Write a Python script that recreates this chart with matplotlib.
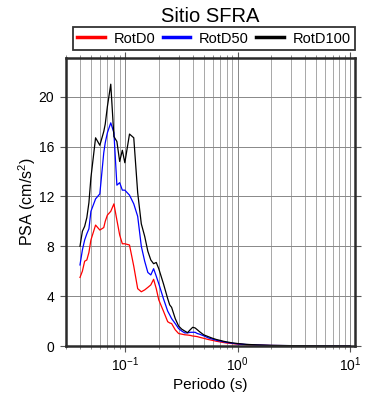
import matplotlib
matplotlib.use('Agg')
import matplotlib.pyplot as plt
from matplotlib.ticker import LogLocator, NullFormatter

plt.rcParams['font.family'] = ['Liberation Sans', 'DejaVu Sans']
plt.rcParams['mathtext.fontset'] = 'custom'
plt.rcParams['mathtext.rm'] = 'Liberation Sans'
plt.rcParams['mathtext.it'] = 'Liberation Sans:italic'

# periodos (s)
periodos = [0.04, 0.042, 0.044, 0.046, 0.048, 0.05, 0.055, 0.06, 0.065, 0.067,
            0.07, 0.075, 0.08, 0.085, 0.09, 0.095, 0.1, 0.11, 0.12, 0.13,
            0.14, 0.15, 0.16, 0.17, 0.18, 0.19, 0.2, 0.22, 0.24, 0.25,
            0.26, 0.28, 0.3, 0.32, 0.34, 0.36, 0.38, 0.4, 0.42, 0.44,
            0.46, 0.5, 0.55, 0.6, 0.65, 0.7, 0.75, 0.8, 0.9, 1.0,
            1.2, 1.5, 2.0, 3.0, 4.0, 5.0, 6.0, 7.5, 10.0]

rotd0 = [5.5, 6.0, 6.8, 6.9, 7.5, 8.5, 9.7, 9.3, 9.5, 10.0,
         10.5, 10.8, 11.4, 10.1, 8.9, 8.2, 8.2, 8.1, 6.4, 4.6,
         4.35, 4.5, 4.7, 4.9, 5.35, 4.6, 3.7, 2.8, 1.95, 1.85,
         1.8, 1.3, 1.0, 0.95, 0.9, 0.88, 0.85, 0.8, 0.78, 0.75,
         0.7, 0.62, 0.52, 0.45, 0.38, 0.33, 0.28, 0.24, 0.19, 0.15,
         0.1, 0.07, 0.04, 0.025, 0.018, 0.013, 0.01, 0.007, 0.005]

rotd50 = [6.5, 7.7, 8.5, 9.0, 9.4, 10.8, 11.8, 12.2, 15.5, 16.3,
          17.1, 17.9, 17.1, 12.9, 13.1, 12.5, 12.5, 12.1, 11.4, 10.4,
          8.0, 6.8, 5.9, 5.7, 6.2, 5.6, 5.0, 3.8, 2.8, 2.5,
          2.2, 1.8, 1.4, 1.2, 1.05, 1.05, 1.1, 1.1, 1.1, 1.0,
          0.95, 0.82, 0.65, 0.55, 0.46, 0.4, 0.34, 0.29, 0.22, 0.17,
          0.12, 0.08, 0.045, 0.028, 0.02, 0.015, 0.011, 0.008, 0.006]

rotd100 = [8.0, 9.2, 9.6, 10.3, 11.5, 13.5, 16.7, 16.1, 17.2, 17.8,
           19.2, 21.0, 16.8, 16.4, 14.8, 15.7, 14.7, 17.0, 16.7, 12.3,
           9.8, 8.8, 7.6, 6.9, 6.6, 6.7, 6.2, 5.0, 3.8, 3.3,
           3.1, 2.2, 1.6, 1.35, 1.2, 1.07, 1.3, 1.5, 1.45, 1.3,
           1.15, 0.9, 0.75, 0.62, 0.52, 0.45, 0.38, 0.33, 0.25, 0.2,
           0.13, 0.09, 0.05, 0.03, 0.022, 0.016, 0.012, 0.009, 0.006]

fig = plt.figure(figsize=(3.9, 4.0), dpi=100)
ax = fig.add_axes([0.169, 0.135, 0.741, 0.72])

ax.plot(periodos, rotd0, color='red', lw=0.9, label='RotD0')
ax.plot(periodos, rotd50, color='blue', lw=0.9, label='RotD50')
ax.plot(periodos, rotd100, color='black', lw=0.9, label='RotD100')

ax.set_xscale('log')
ax.set_xlim(0.03, 11)
ax.set_ylim(0, 23.1)
ax.set_yticks([0, 4, 8, 12, 16, 20])
ax.xaxis.set_major_locator(LogLocator(base=10))
ax.xaxis.set_minor_locator(LogLocator(base=10, subs=range(2, 10)))
ax.xaxis.set_minor_formatter(NullFormatter())

ax.grid(True, which='major', axis='both', color='#888888', lw=0.7)
ax.grid(True, which='minor', axis='x', color='#999999', lw=0.6)
ax.set_axisbelow(True)

for s in ax.spines.values():
    s.set_linewidth(1.8)
    s.set_color('#2a2a2a')

ax.tick_params(which='major', direction='out', length=4, width=0.8,
               top=True, right=True, labelsize=10, color='#555555')
ax.tick_params(axis='y', pad=4.5)
ax.tick_params(axis='x', pad=3)
ax.tick_params(which='minor', direction='out', length=2.5, width=0.6,
               top=True, right=False, color='#777777')

ax.set_xlabel('Periodo (s)', fontsize=11, labelpad=3)
ax.set_ylabel('PSA (cm/s$^2$)', fontsize=11.5, labelpad=0)

leg = ax.legend(loc='lower left', bbox_to_anchor=(0.024, 1.028, 0.976, 0.082),
                mode='expand', ncol=3, fontsize=10.5, frameon=True, fancybox=False,
                borderaxespad=0, handlelength=1.9, handletextpad=0.6,
                borderpad=0.3, columnspacing=1.2)
leg.get_frame().set_edgecolor('black')
leg.get_frame().set_linewidth(1.3)
for ln in leg.get_lines():
    ln.set_linewidth(2.5)

fig.text(0.54, 0.945, 'Sitio SFRA', fontsize=14.5, ha='center', va='baseline')

fig.savefig('out.png', dpi=100)
